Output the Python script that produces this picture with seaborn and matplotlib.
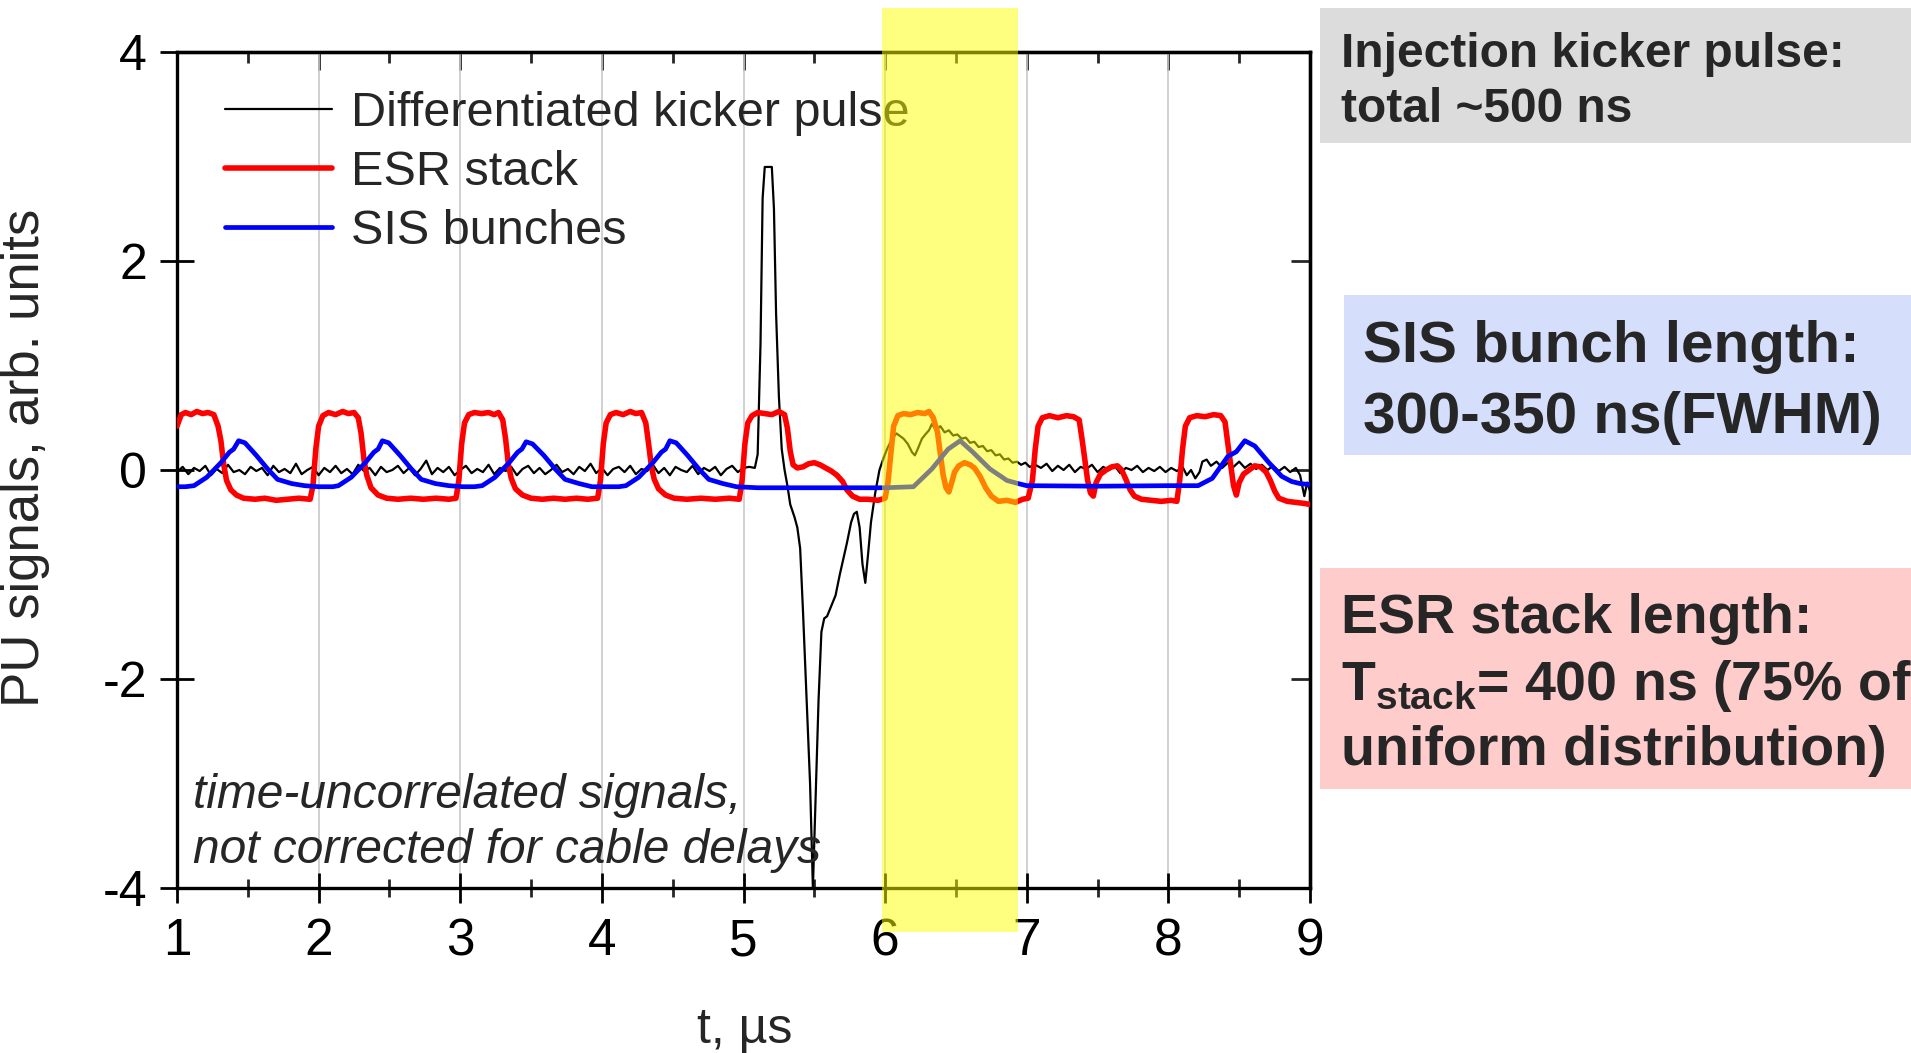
import matplotlib
matplotlib.use("Agg")
import matplotlib.pyplot as plt
import numpy as np
import pandas as pd
import seaborn as sns
from matplotlib.patches import Rectangle
from matplotlib.ticker import MultipleLocator

# ---------------- pick-up signals (t in microseconds, arbitrary units) ----------------
# differentiated kicker pulse: noisy baseline, the kick itself, and the tail
kick_base_t = [1.00, 1.04, 1.08, 1.12, 1.16, 1.20, 1.24, 1.28, 1.32, 1.36,
               1.40, 1.44, 1.48, 1.52, 1.56, 1.60, 1.64, 1.68, 1.72, 1.76,
               1.80, 1.84, 1.88, 1.92, 1.96, 2.00, 2.04, 2.08, 2.12, 2.16,
               2.20, 2.24, 2.28, 2.32, 2.36, 2.40, 2.44, 2.48, 2.52, 2.56,
               2.60, 2.64, 2.68, 2.72, 2.76, 2.80, 2.84, 2.88, 2.92, 2.96,
               3.00, 3.04, 3.08, 3.12, 3.16, 3.20, 3.24, 3.28, 3.32, 3.36,
               3.40, 3.44, 3.48, 3.52, 3.56, 3.60, 3.64, 3.68, 3.72, 3.76,
               3.80, 3.84, 3.88, 3.92, 3.96, 4.00, 4.04, 4.08, 4.12, 4.16,
               4.20, 4.24, 4.28, 4.32, 4.36, 4.40, 4.44, 4.48, 4.52, 4.56,
               4.60, 4.64, 4.68, 4.72, 4.76, 4.80, 4.84, 4.88, 4.92, 4.96,
               5.00, 5.04]
kick_base_v = [-0.02, 0.03, -0.04, 0.02, -0.01, 0.04, -0.05, 0.01, -0.03, 0.05,
               -0.02, 0.00, -0.04, 0.03, -0.01, 0.02, -0.05, 0.04, -0.02, 0.01,
               -0.03, 0.06, -0.04, 0.00, 0.03, -0.05, 0.02, -0.02, 0.04, -0.03,
               0.01, -0.04, 0.05, -0.01, 0.02, -0.05, 0.03, -0.02, 0.00, 0.04,
               -0.03, 0.02, -0.05, 0.01, 0.09, -0.04, 0.02, -0.02, 0.03, -0.05,
               0.00, 0.04, -0.03, 0.01, -0.02, 0.05, -0.04, 0.02, -0.01, 0.03,
               -0.05, 0.01, 0.04, -0.03, 0.02, -0.04, 0.00, 0.05, -0.02, 0.01,
               -0.04, 0.03, -0.01, 0.06, -0.03, 0.02, -0.05, 0.01, 0.03, -0.02,
               0.04, -0.04, 0.01, -0.01, 0.05, -0.03, 0.02, -0.05, 0.03, 0.00,
               -0.02, 0.04, -0.04, 0.02, -0.01, 0.03, -0.05, 0.01, 0.04, -0.02,
               0.02, 0.03]
kick_pulse_t = [5.08, 5.10, 5.12, 5.135, 5.15, 5.20, 5.215, 5.23, 5.25, 5.27,
                5.29, 5.31, 5.33, 5.36, 5.38, 5.40, 5.42, 5.44, 5.47, 5.49,
                5.51, 5.53, 5.55, 5.57, 5.59, 5.62, 5.65, 5.68, 5.70, 5.73,
                5.76, 5.78, 5.80, 5.82, 5.84, 5.86, 5.88, 5.90, 5.93, 5.96,
                5.99, 6.02, 6.05, 6.08, 6.10, 6.13, 6.16, 6.19, 6.21, 6.23,
                6.26, 6.29, 6.31, 6.33, 6.36, 6.39, 6.42, 6.45, 6.48, 6.51,
                6.54, 6.57, 6.60, 6.63, 6.66, 6.69, 6.72, 6.75, 6.78, 6.81,
                6.84, 6.87, 6.90, 6.93, 6.96, 6.99, 7.02]
kick_pulse_v = [0.02, 0.15, 1.20, 2.60, 2.90, 2.90, 2.50, 1.50, 0.70, 0.20,
                0.00, -0.15, -0.33, -0.45, -0.55, -0.75, -1.35, -2.00, -3.00, -4.00,
                -3.10, -2.20, -1.55, -1.42, -1.40, -1.30, -1.20, -1.00, -0.88, -0.70,
                -0.50, -0.42, -0.40, -0.55, -0.90, -1.08, -0.80, -0.50, -0.22, 0.00,
                0.12, 0.22, 0.30, 0.35, 0.33, 0.30, 0.25, 0.17, 0.14, 0.20,
                0.30, 0.35, 0.38, 0.44, 0.38, 0.42, 0.36, 0.38, 0.33, 0.34,
                0.30, 0.31, 0.26, 0.27, 0.22, 0.23, 0.18, 0.19, 0.14, 0.15,
                0.10, 0.11, 0.07, 0.08, 0.05, 0.07, 0.03]
kick_tail_t = [7.06, 7.10, 7.14, 7.18, 7.22, 7.26, 7.30, 7.34, 7.38, 7.42,
               7.46, 7.50, 7.54, 7.58, 7.62, 7.66, 7.70, 7.74, 7.78, 7.82,
               7.86, 7.90, 7.94, 7.98, 8.02, 8.06, 8.10, 8.13, 8.16, 8.19,
               8.22, 8.24, 8.27, 8.30, 8.34, 8.38, 8.42, 8.46, 8.50, 8.54,
               8.58, 8.62, 8.66, 8.70, 8.74, 8.78, 8.82, 8.86, 8.90, 8.93,
               8.96, 8.98, 9.00]
kick_tail_v = [0.05, 0.02, 0.06, -0.01, 0.04, 0.00, 0.05, -0.02, 0.03, 0.01,
               0.05, -0.02, 0.03, 0.00, 0.04, -0.03, 0.02, 0.00, 0.04, -0.02,
               0.02, -0.01, 0.03, -0.02, 0.02, -0.01, 0.03, -0.05, 0.00, -0.08,
               -0.02, 0.08, 0.10, 0.04, 0.08, 0.02, 0.07, 0.03, 0.08, 0.02,
               0.06, 0.01, 0.05, 0.00, 0.04, -0.01, 0.03, -0.02, 0.02, -0.05,
               -0.25, -0.12, -0.20]

# ESR stack signal
esr_t = [1.00, 1.03, 1.06, 1.10, 1.14, 1.18, 1.22, 1.26, 1.29, 1.31,
         1.33, 1.35, 1.38, 1.42, 1.47, 1.55, 1.62, 1.70, 1.78, 1.86,
         1.94, 1.96, 1.98, 2.00, 2.03, 2.07, 2.12, 2.17, 2.21, 2.25,
         2.28, 2.30, 2.32, 2.34, 2.37, 2.42, 2.48, 2.56, 2.65, 2.74,
         2.83, 2.92, 2.97, 2.99, 3.01, 3.03, 3.06, 3.10, 3.15, 3.20,
         3.24, 3.27, 3.30, 3.32, 3.34, 3.36, 3.39, 3.44, 3.50, 3.58,
         3.66, 3.74, 3.82, 3.90, 3.97, 3.99, 4.01, 4.03, 4.06, 4.10,
         4.15, 4.20, 4.24, 4.28, 4.31, 4.33, 4.35, 4.37, 4.40, 4.45,
         4.51, 4.60, 4.70, 4.80, 4.90, 4.97, 4.99, 5.01, 5.03, 5.06,
         5.10, 5.15, 5.20, 5.25, 5.29, 5.31, 5.33, 5.35, 5.38, 5.42,
         5.46, 5.50, 5.54, 5.58, 5.62, 5.66, 5.70, 5.73, 5.77, 5.82,
         5.88, 5.95, 6.00, 6.02, 6.04, 6.06, 6.09, 6.13, 6.18, 6.23,
         6.28, 6.31, 6.34, 6.37, 6.39, 6.41, 6.43, 6.45, 6.47, 6.49,
         6.52, 6.56, 6.60, 6.63, 6.67, 6.71, 6.75, 6.80, 6.86, 6.92,
         6.97, 7.01, 7.04, 7.06, 7.08, 7.11, 7.16, 7.22, 7.28, 7.33,
         7.37, 7.39, 7.41, 7.43, 7.45, 7.47, 7.49, 7.52, 7.56, 7.60,
         7.64, 7.67, 7.70, 7.73, 7.76, 7.81, 7.88, 7.95, 8.02, 8.06,
         8.08, 8.10, 8.12, 8.15, 8.20, 8.26, 8.32, 8.37, 8.40, 8.42,
         8.44, 8.46, 8.48, 8.50, 8.53, 8.57, 8.61, 8.65, 8.69, 8.72,
         8.75, 8.78, 8.84, 8.90, 8.96, 9.00]
esr_v = [0.42, 0.53, 0.55, 0.53, 0.56, 0.54, 0.55, 0.53, 0.42, 0.28,
         0.05, -0.10, -0.19, -0.24, -0.27, -0.28, -0.27, -0.29, -0.28, -0.27,
         -0.28, -0.15, 0.20, 0.42, 0.52, 0.55, 0.53, 0.56, 0.54, 0.55,
         0.50, 0.35, 0.10, -0.05, -0.17, -0.24, -0.27, -0.28, -0.27, -0.28,
         -0.27, -0.28, -0.27, -0.10, 0.25, 0.45, 0.53, 0.55, 0.54, 0.55,
         0.53, 0.55, 0.48, 0.30, 0.05, -0.08, -0.18, -0.24, -0.27, -0.28,
         -0.27, -0.28, -0.27, -0.28, -0.27, -0.10, 0.25, 0.45, 0.53, 0.55,
         0.53, 0.56, 0.54, 0.55, 0.45, 0.25, 0.03, -0.09, -0.18, -0.24,
         -0.27, -0.28, -0.27, -0.28, -0.27, -0.28, -0.10, 0.25, 0.45, 0.52,
         0.55, 0.54, 0.53, 0.56, 0.53, 0.40, 0.18, 0.05, 0.02, 0.03,
         0.06, 0.07, 0.05, 0.02, -0.01, -0.05, -0.11, -0.19, -0.25, -0.28,
         -0.28, -0.29, -0.27, -0.12, 0.15, 0.42, 0.52, 0.54, 0.53, 0.55,
         0.54, 0.56, 0.50, 0.36, 0.15, -0.05, -0.17, -0.21, -0.12, -0.02,
         0.04, 0.07, 0.05, 0.02, -0.06, -0.17, -0.25, -0.30, -0.29, -0.31,
         -0.28, -0.27, -0.10, 0.20, 0.42, 0.50, 0.52, 0.50, 0.52, 0.51,
         0.48, 0.30, 0.10, -0.10, -0.22, -0.25, -0.12, -0.04, 0.00, 0.03,
         0.04, 0.00, -0.09, -0.19, -0.25, -0.28, -0.29, -0.30, -0.29, -0.30,
         -0.10, 0.20, 0.42, 0.50, 0.52, 0.51, 0.53, 0.52, 0.46, 0.25,
         0.05, -0.15, -0.24, -0.12, -0.04, 0.00, 0.04, 0.03, -0.02, -0.10,
         -0.20, -0.27, -0.30, -0.31, -0.32, -0.33]

# SIS bunches signal
sis_t = [1.00, 1.06, 1.12, 1.21, 1.31, 1.37, 1.40, 1.435, 1.48, 1.56,
         1.64, 1.71, 1.81, 1.90, 2.00, 2.10, 2.14, 2.23, 2.33, 2.39,
         2.42, 2.45, 2.495, 2.575, 2.655, 2.725, 2.825, 2.92, 3.02, 3.10,
         3.155, 3.245, 3.345, 3.405, 3.435, 3.465, 3.51, 3.59, 3.67, 3.74,
         3.84, 3.93, 4.05, 4.12, 4.17, 4.26, 4.36, 4.42, 4.45, 4.48,
         4.525, 4.605, 4.685, 4.755, 4.855, 4.95, 5.10, 5.40, 5.80, 6.00,
         6.20, 6.33, 6.445, 6.53, 6.62, 6.74, 6.86, 6.94, 7.00, 7.50,
         8.00, 8.21, 8.31, 8.42, 8.48, 8.54, 8.61, 8.71, 8.80, 8.87,
         8.93, 9.00]
sis_v = [-0.16, -0.16, -0.15, -0.07, 0.07, 0.17, 0.20, 0.28, 0.26, 0.14,
         0.01, -0.09, -0.13, -0.15, -0.16, -0.16, -0.15, -0.07, 0.07, 0.17,
         0.20, 0.28, 0.26, 0.14, 0.01, -0.09, -0.13, -0.15, -0.16, -0.16,
         -0.15, -0.07, 0.07, 0.17, 0.20, 0.27, 0.25, 0.14, 0.01, -0.09,
         -0.13, -0.16, -0.16, -0.16, -0.15, -0.07, 0.07, 0.17, 0.20, 0.28,
         0.26, 0.14, 0.01, -0.09, -0.13, -0.16, -0.17, -0.17, -0.17, -0.17,
         -0.16, 0.01, 0.20, 0.28, 0.17, 0.01, -0.10, -0.13, -0.15, -0.155,
         -0.15, -0.15, -0.08, 0.13, 0.175, 0.28, 0.23, 0.07, -0.06, -0.11,
         -0.13, -0.14]

series_names = ["Differentiated kicker pulse", "ESR stack", "SIS bunches"]
series_colors = ["#000000", "#FF0000", "#0000FF"]
x_ticks = [1, 2, 3, 4, 5, 6, 7, 8, 9]
y_ticks = [-4, -2, 0, 2, 4]
injection_window = (5.98, 6.94)

# ---------------- styling ----------------
sns.set_theme(style="white")
plt.rcParams["font.family"] = ["Liberation Sans", "DejaVu Sans"]
plt.rcParams["mathtext.fontset"] = "custom"
plt.rcParams["mathtext.rm"] = "Liberation Sans"
plt.rcParams["mathtext.bf"] = "Liberation Sans:bold"

W, H = 1911, 1053
fig = plt.figure(figsize=(W / 100, H / 100), dpi=100)
fig.patch.set_facecolor("white")

def fx(px):
    return px / W

def fy(py):
    return 1 - py / H

ax = fig.add_axes([fx(177), fy(888), fx(1310) - fx(177), fy(52) - fy(888)])
ax.set_facecolor("white")

kick = pd.DataFrame({"t": kick_base_t + kick_pulse_t + kick_tail_t,
                     "v": kick_base_v + kick_pulse_v + kick_tail_v})
esr = pd.DataFrame({"t": esr_t, "v": esr_v})
sis = pd.DataFrame({"t": sis_t, "v": sis_v})

sns.lineplot(data=kick, x="t", y="v", ax=ax, color=series_colors[0], lw=1.6,
             estimator=None, sort=False, label=series_names[0], zorder=2)
sns.lineplot(data=esr, x="t", y="v", ax=ax, color=series_colors[1], lw=4.0,
             estimator=None, sort=False, label=series_names[1], zorder=3)
sns.lineplot(data=sis, x="t", y="v", ax=ax, color=series_colors[2], lw=3.4,
             estimator=None, sort=False, label=series_names[2], zorder=4)

# yellow highlight of the injection window, spilling beyond the frame
ax.add_patch(Rectangle((injection_window[0], -4.42), injection_window[1] - injection_window[0],
                       8.84, facecolor=(1, 1, 0), alpha=0.5, lw=0, clip_on=False, zorder=10))

ax.set_xlim(1, 9)
ax.set_ylim(-4, 4)
ax.set_xticks(x_ticks)
ax.set_yticks(y_ticks)
ax.xaxis.set_minor_locator(MultipleLocator(0.5))
ax.set_xticklabels([str(v) for v in x_ticks])
ax.set_yticklabels([str(v) for v in y_ticks])
ax.grid(axis="x", which="major", color="#C8C8C8", lw=1.2)
ax.grid(axis="y", visible=False)
ax.set_axisbelow(True)

for s in ax.spines.values():
    s.set_visible(True)
    s.set_color("black")
    s.set_linewidth(2.4)

ax.tick_params(axis="x", which="major", direction="inout", length=22, width=2,
               labelsize=37, pad=10, bottom=True, top=False, colors="black")
ax.tick_params(axis="x", which="minor", direction="inout", length=13, width=2,
               bottom=True, top=False)
ax.tick_params(axis="y", which="major", direction="inout", length=25, width=2,
               labelsize=36, pad=9, left=True, right=False, colors="black")
ax.tick_params(axis="y", which="minor", left=False, right=False)
ax.set_xlabel("")
ax.set_ylabel("")

secx = ax.secondary_xaxis("top")
secx.set_xticks(x_ticks)
secx.xaxis.set_minor_locator(MultipleLocator(0.5))
secx.tick_params(which="major", direction="in", length=13, width=2, labeltop=False)
secx.tick_params(which="minor", direction="in", length=8, width=2)
secx.spines["top"].set_linewidth(2.4)

secy = ax.secondary_yaxis("right")
secy.set_yticks(y_ticks)
secy.tick_params(which="major", direction="in", length=14, width=2, labelright=False)
secy.spines["right"].set_linewidth(2.4)

leg = ax.legend(loc="upper left", bbox_to_anchor=(0.0424, 0.953), frameon=False,
                fontsize=35, handlelength=2.2, handletextpad=0.4, labelspacing=0.29,
                borderpad=0, borderaxespad=0)

# axis titles
fig.text(fx(25), fy(458), "PU signals, arb. units", rotation=90, ha="center",
         va="center", fontsize=38)
fig.text(fx(745), fy(1030), "t, \u00b5s", ha="center", va="center", fontsize=36)

fig.text(fx(193), fy(823), "time-uncorrelated signals,\nnot corrected for cable delays",
         ha="left", va="center", style="italic", fontsize=34.5, linespacing=1.3)

# side notes
fig.add_artist(Rectangle((fx(1320), fy(142.6)), 1 - fx(1320), fy(8.5) - fy(142.6),
                         transform=fig.transFigure, facecolor="#DCDCDC", lw=0, zorder=0))
fig.add_artist(Rectangle((fx(1344), fy(455)), 1 - fx(1344), fy(295) - fy(455),
                         transform=fig.transFigure, facecolor="#D5DEFB", lw=0, zorder=0))
fig.add_artist(Rectangle((fx(1320), fy(789)), 1 - fx(1320), fy(568) - fy(789),
                         transform=fig.transFigure, facecolor="#FFCCCC", lw=0, zorder=0))

fig.text(fx(1341), fy(67), "Injection kicker pulse:", ha="left", va="baseline",
         fontsize=34.5, fontweight="bold")
fig.text(fx(1341), fy(122), "total ~500 ns", ha="left", va="baseline",
         fontsize=34.5, fontweight="bold")
fig.text(fx(1363), fy(362), "SIS bunch length:", ha="left", va="baseline",
         fontsize=42, fontweight="bold")
fig.text(fx(1363), fy(432.7), "300-350 ns(FWHM)", ha="left", va="baseline",
         fontsize=42, fontweight="bold")
fig.text(fx(1341), fy(632.6), "ESR stack length:", ha="left", va="baseline",
         fontsize=40, fontweight="bold")
fig.text(fx(1341), fy(699.6), r"$\mathbf{T}_{\mathbf{stack}}$= 400 ns (75% of", ha="left",
         va="baseline", fontsize=40, fontweight="bold")
fig.text(fx(1341), fy(765.4), "uniform distribution)", ha="left", va="baseline",
         fontsize=40, fontweight="bold")

fig.savefig("out.png", dpi=100)
